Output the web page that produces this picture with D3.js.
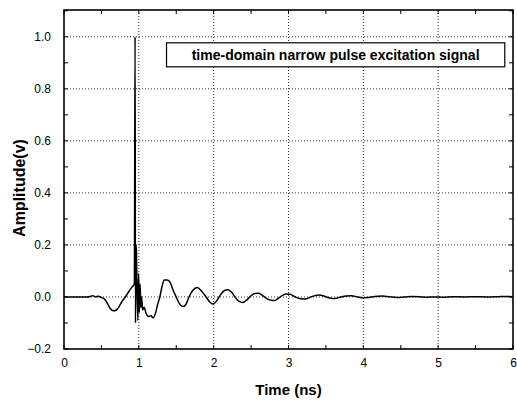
<!DOCTYPE html>
<html>
<head>
<meta charset="utf-8">
<script src="https://cdn.jsdelivr.net/npm/d3@7"></script>
<style>
  body { margin: 0; background: #fff; }
  text { font-family: Arial, "Liberation Sans", sans-serif; }
</style>
</head>
<body>
<svg width="517" height="401"></svg>
<script>

// waveform (time in ns, amplitude in v)
let time = [0, 0.3, 0.35, 0.38, 0.42, 0.46, 0.5, 0.54, 0.58, 0.62, 0.66, 0.7, 0.74, 0.78, 0.82, 0.86, 0.9, 0.93,
            0.94, 0.95, 0.955, 0.96, 0.967, 0.977, 0.987, 0.997, 1.007, 1.017, 1.027, 1.037, 1.05, 1.07,
            1.1, 1.13, 1.16, 1.19, 1.22, 1.25, 1.28, 1.31, 1.34, 1.38, 1.42, 1.46, 1.5, 1.54, 1.59, 1.63,
            1.67, 1.72, 1.78, 1.84, 1.9, 1.95, 1.99, 2.04, 2.09, 2.14, 2.19, 2.24, 2.29, 2.34, 2.39, 2.44,
            2.5, 2.55, 2.6, 2.66, 2.72, 2.77, 2.81, 2.86, 2.92, 2.97, 3.02, 3.08, 3.15, 3.22, 3.3, 3.36,
            3.41, 3.48, 3.55, 3.62, 3.7, 3.77, 3.84, 3.92, 4.0, 4.07, 4.15, 4.25, 4.35, 4.45, 4.55, 4.65,
            4.75, 4.85, 4.95, 5.05, 5.2, 5.35, 5.5, 5.65, 5.8, 5.9, 6.0];
let amplitude = [0, 0, 0.002, 0.005, 0.001, 0.003, -0.002, -0.008, -0.025, -0.045, -0.053, -0.05, -0.035, -0.015, 0.0, 0.018, 0.035, 0.045,
            0.05, 1.0, -0.10, 0.20, 0.18, 0.02, -0.09, 0.09, -0.06, 0.05, -0.04, 0.0, -0.05, -0.04,
            -0.065, -0.075, -0.072, -0.08, -0.065, -0.03, 0.0, 0.04, 0.065, 0.065, 0.055, 0.025, 0.0, -0.025, -0.037, -0.028,
            0.0, 0.025, 0.036, 0.022, 0.0, -0.02, -0.027, -0.015, 0.008, 0.024, 0.028, 0.018, -0.002, -0.017, -0.021, -0.012,
            0.005, 0.013, 0.014, 0.004, -0.008, -0.013, -0.014, -0.006, 0.006, 0.011, 0.010, 0.002, -0.006, -0.008, 0.0, 0.006,
            0.008, 0.003, -0.004, -0.006, 0.0, 0.004, 0.005, 0.0, -0.004, -0.002, 0.002, 0.004, 0.001, -0.002, 0.0, 0.002,
            0.001, -0.001, 0.0, -0.001, 0.001, 0.0, 0.001, 0.0, 0.001, 0.002, 0.001];

let xTicks = [0, 1, 2, 3, 4, 5, 6],
    yTicks = [-0.2, 0.0, 0.2, 0.4, 0.6, 0.8, 1.0],
    xMinor = d3.range(0, 6.01, 0.5),
    yMinor = d3.range(-0.2, 1.101, 0.1),
    legendText = "time-domain narrow pulse excitation signal";

let svg = d3.select("svg"),
    margin = {top: 10, right: 4, bottom: 52, left: 64},
    width = +svg.attr("width") - margin.left - margin.right,
    height = +svg.attr("height") - margin.top - margin.bottom;

let x = d3.scaleLinear().domain([0, 6]).range([0, width]),
    y = d3.scaleLinear().domain([-0.2, 1.103]).range([height, 0]);

let g = svg.append("g").attr("transform", "translate(" + margin.left + "," + margin.top + ")");

// dotted grid at the labelled ticks
g.append("g").selectAll("line").data(xTicks.slice(1, -1)).enter().append("line")
    .attr("x1", function(d) { return x(d); }).attr("x2", function(d) { return x(d); })
    .attr("y1", 0).attr("y2", height)
    .attr("stroke", "#333").attr("stroke-width", 1).attr("stroke-dasharray", "1,2");
g.append("g").selectAll("line").data(yTicks.slice(1)).enter().append("line")
    .attr("y1", function(d) { return y(d); }).attr("y2", function(d) { return y(d); })
    .attr("x1", 0).attr("x2", width)
    .attr("stroke", "#333").attr("stroke-width", 1).attr("stroke-dasharray", "1,2");

// axes with labels, then inner minor ticks on all four sides
g.append("g").attr("transform", "translate(0," + height + ")")
    .call(d3.axisBottom(x).tickValues(xTicks).tickSize(0).tickPadding(9).tickFormat(d3.format("d")))
    .call(function(a) { a.select(".domain").remove(); })
    .selectAll("text").attr("font-size", 12).attr("font-family", "Arial, 'Liberation Sans', sans-serif");
g.append("g")
    .call(d3.axisLeft(y).tickValues(yTicks).tickSize(0).tickPadding(13).tickFormat(d3.format(".1f")))
    .call(function(a) { a.select(".domain").remove(); })
    .selectAll("text").attr("font-size", 12).attr("font-family", "Arial, 'Liberation Sans', sans-serif");

let ticks = g.append("g").attr("stroke", "#000").attr("stroke-width", 1);
ticks.selectAll(".tb").data(xMinor).enter().append("line")
    .attr("x1", function(d) { return x(d); }).attr("x2", function(d) { return x(d); })
    .attr("y1", height).attr("y2", height - 4);
ticks.selectAll(".tt").data(xMinor).enter().append("line")
    .attr("x1", function(d) { return x(d); }).attr("x2", function(d) { return x(d); })
    .attr("y1", 0).attr("y2", 4);
ticks.selectAll(".tl").data(yMinor).enter().append("line")
    .attr("y1", function(d) { return y(d); }).attr("y2", function(d) { return y(d); })
    .attr("x1", 0).attr("x2", 4);
ticks.selectAll(".tr").data(yMinor).enter().append("line")
    .attr("y1", function(d) { return y(d); }).attr("y2", function(d) { return y(d); })
    .attr("x1", width).attr("x2", width - 4);

// the signal
let line = d3.line()
    .x(function(d, i) { return x(time[i]); })
    .y(function(d) { return y(d); })
    .curve(d3.curveMonotoneX);

g.append("path").datum(amplitude)
    .attr("fill", "none").attr("stroke", "#000").attr("stroke-width", 1.5)
    .attr("stroke-linejoin", "round")
    .attr("d", line);

// frame
g.append("rect").attr("width", width).attr("height", height)
    .attr("fill", "none").attr("stroke", "#000").attr("stroke-width", 1.6);

// legend box
let legend = g.append("g").attr("transform", "translate(" + x(1.37) + "," + (y(0.9) - 20) + ")");
legend.append("rect").attr("width", x(4.52)).attr("height", 24)
    .attr("fill", "#fff").attr("stroke", "#000").attr("stroke-width", 1.2);
legend.append("text").attr("x", x(4.52) / 2).attr("y", 17.5)
    .attr("text-anchor", "middle").attr("font-size", 14).attr("font-weight", "bold")
    .text(legendText);

// axis titles
svg.append("text").attr("x", margin.left + width / 2).attr("y", 395)
    .attr("text-anchor", "middle").attr("font-size", 15).attr("font-weight", "bold")
    .text("Time (ns)");
svg.append("text").attr("transform", "translate(25,188) rotate(-90)")
    .attr("text-anchor", "middle").attr("font-size", 16).attr("font-weight", "bold")
    .text("Amplitude(v)");

</script>
</body>
</html>
